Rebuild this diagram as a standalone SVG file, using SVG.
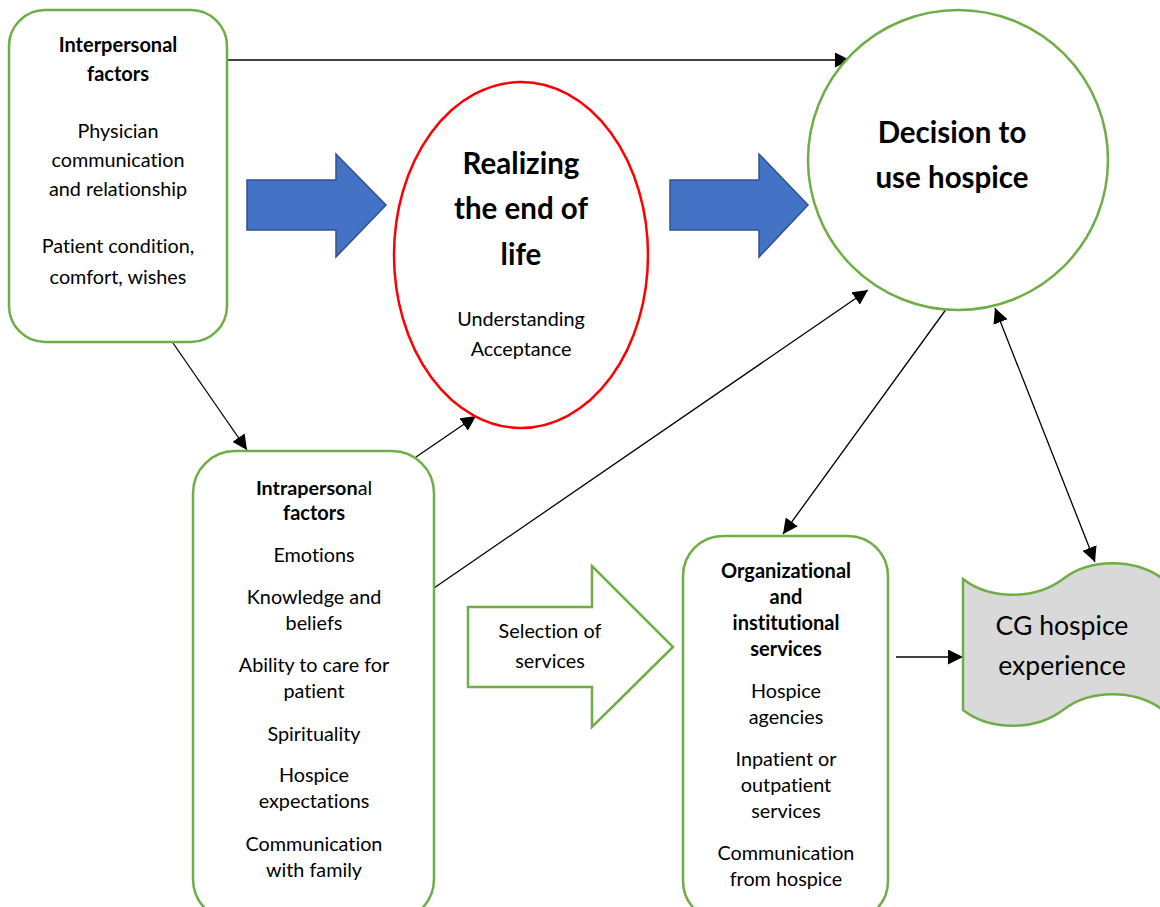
<svg xmlns="http://www.w3.org/2000/svg" width="1160" height="907" viewBox="0 0 1160 907">
  <defs>
    <marker id="arrow" viewBox="0 0 10 10" refX="10" refY="5" markerUnits="userSpaceOnUse" markerWidth="15" markerHeight="15" orient="auto-start-reverse">
      <path d="M0,0 L10,5 L0,10 Z" fill="#000"/>
    </marker>
    <style>
      .box { fill: #fff; stroke: #70AD47; stroke-width: 2.5; }
      .blue { fill: #4472C4; stroke: #2F528F; stroke-width: 1.5; }
      .conn { fill: none; stroke: #000; stroke-width: 1.3; }
      text { font-family: Lato, "Open Sans", "Liberation Sans", sans-serif; fill: #000; text-anchor: middle; font-variant-ligatures: none; }
      .t { font-size: 19.8px; }
      .b { font-size: 20px; font-weight: bold; }
      .big { font-size: 29.5px; font-weight: bold; }
      .bigr { font-size: 26.6px; }
    </style>
  </defs>
  <rect width="1160" height="907" fill="#fff"/>

  <!-- connectors -->
  <g id="connectors">
    <line class="conn" x1="227" y1="60" x2="850" y2="60" marker-end="url(#arrow)"/>
    <line class="conn" x1="173" y1="343" x2="247" y2="450" marker-end="url(#arrow)"/>
    <line class="conn" x1="416" y1="457" x2="476" y2="416" marker-end="url(#arrow)"/>
    <line class="conn" x1="434" y1="588" x2="868" y2="290" marker-end="url(#arrow)"/>
    <line class="conn" x1="947" y1="308" x2="783" y2="534" marker-end="url(#arrow)"/>
    <line class="conn" x1="995" y1="308" x2="1095" y2="562" marker-start="url(#arrow)" marker-end="url(#arrow)"/>
    <line class="conn" x1="896" y1="657" x2="963" y2="657" marker-end="url(#arrow)"/>
  </g>

  <!-- interpersonal factors -->
  <g id="interpersonal">
    <rect class="box" x="9" y="10" width="218" height="332" rx="36"/>
    <text class="b" x="118" y="52">Interpersonal</text>
    <text class="b" x="118" y="81">factors</text>
    <text class="t" x="118" y="138">Physician</text>
    <text class="t" x="118" y="167">communication</text>
    <text class="t" x="118" y="196">and relationship</text>
    <text class="t" x="118" y="253">Patient condition,</text>
    <text class="t" x="118" y="284">comfort, wishes</text>
  </g>

  <!-- block arrows -->
  <g id="arrow-left">
    <path class="blue" d="M247,180 L336,180 L336,154 L386,205 L336,257 L336,230 L247,230 Z"/>
  </g>
  <g id="arrow-right">
    <path class="blue" d="M670,180 L759,180 L759,154 L808,205 L759,257 L759,230 L670,230 Z"/>
  </g>

  <!-- realizing the end of life -->
  <g id="realizing">
    <ellipse cx="521" cy="255" rx="127" ry="173" fill="#fff" stroke="#FF0000" stroke-width="2.5"/>
    <text class="big" x="521" y="174">Realizing</text>
    <text class="big" x="521" y="219">the end of</text>
    <text class="big" x="521" y="265">life</text>
    <text class="t" x="521" y="326">Understanding</text>
    <text class="t" x="521" y="356">Acceptance</text>
  </g>

  <!-- decision -->
  <g id="decision">
    <circle class="box" cx="958" cy="160" r="150"/>
    <text class="big" x="952" y="143">Decision to</text>
    <text class="big" x="952" y="188">use hospice</text>
  </g>

  <!-- intrapersonal factors -->
  <g id="intrapersonal">
    <rect class="box" x="193" y="451" width="241" height="470" rx="42"/>
    <text class="t" x="314" y="495"><tspan font-weight="bold">Intraperson</tspan>al</text>
    <text class="b" x="314" y="520">factors</text>
    <text class="t" x="314" y="562">Emotions</text>
    <text class="t" x="314" y="604">Knowledge and</text>
    <text class="t" x="314" y="630">beliefs</text>
    <text class="t" x="314" y="672">Ability to care for</text>
    <text class="t" x="314" y="698">patient</text>
    <text class="t" x="314" y="741">Spirituality</text>
    <text class="t" x="314" y="782">Hospice</text>
    <text class="t" x="314" y="808">expectations</text>
    <text class="t" x="314" y="851">Communication</text>
    <text class="t" x="314" y="877">with family</text>
  </g>

  <!-- selection of services -->
  <g id="selection">
    <path class="box" d="M468,607 L592,607 L592,566 L673,647 L592,727 L592,687 L468,687 Z"/>
    <text class="t" x="550" y="638">Selection of</text>
    <text class="t" x="550" y="668">services</text>
  </g>

  <!-- organizational and institutional services -->
  <g id="organizational">
    <rect class="box" x="683" y="536" width="205" height="385" rx="40"/>
    <text class="b" x="786" y="578">Organizational</text>
    <text class="b" x="786" y="604">and</text>
    <text class="b" x="786" y="630">institutional</text>
    <text class="b" x="786" y="656">services</text>
    <text class="t" x="786" y="698">Hospice</text>
    <text class="t" x="786" y="724">agencies</text>
    <text class="t" x="786" y="766">Inpatient or</text>
    <text class="t" x="786" y="792">outpatient</text>
    <text class="t" x="786" y="818">services</text>
    <text class="t" x="786" y="860">Communication</text>
    <text class="t" x="786" y="886">from hospice</text>
  </g>

  <!-- caregiver hospice experience -->
  <g id="experience">
    <path d="M963,579 C990,600 1035,600 1063,579 C1090,558 1135,558 1163,579 L1163,710 C1135,689 1090,689 1063,710 C1035,731 990,731 963,710 Z" fill="#D9D9D9" stroke="#70AD47" stroke-width="2.5"/>
    <text class="bigr" x="1062" y="635">CG hospice</text>
    <text class="bigr" x="1062" y="675">experience</text>
  </g>
</svg>
